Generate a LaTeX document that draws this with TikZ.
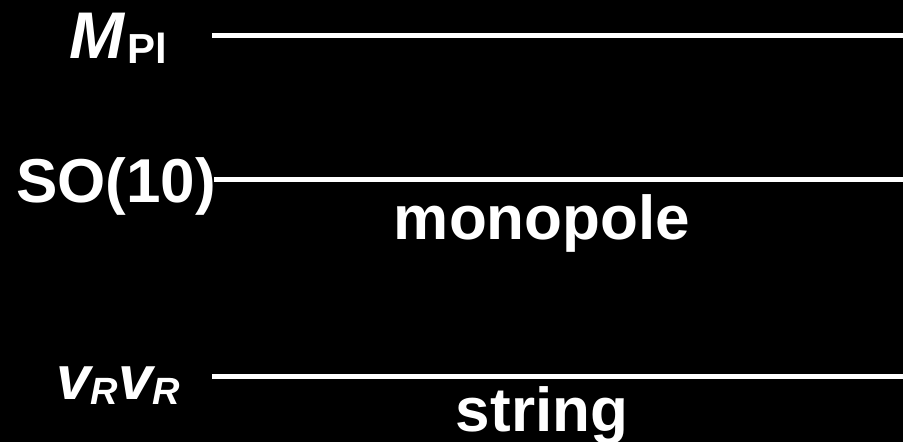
\documentclass[tikz,border=0pt]{standalone}
\usepackage{fontspec}
\setmainfont{Liberation Sans}
\begin{document}
\begin{tikzpicture}[x=1pt,y=1pt,
  lbl/.style={text=white,inner sep=0pt,anchor=base west,font=\fontsize{62}{62}\selectfont\bfseries},
  lvl/.style={draw=white,line width=4.5pt}]
\useasboundingbox (0,0) rectangle (903,442);
\fill[black] (0,0) rectangle (903,442);
% level lines
\coordinate (pl0) at (212,406.5);
\coordinate (pl1) at (903,406.5);
\coordinate (so0) at (214,262.5);
\coordinate (so1) at (903,262.5);
\coordinate (vr0) at (212,65.5);
\coordinate (vr1) at (903,65.5);
\draw[lvl] (pl0) -- (pl1);
\draw[lvl] (so0) -- (so1);
\draw[lvl] (vr0) -- (vr1);
% labels
\node[lbl,font=\fontsize{66}{66}\selectfont\bfseries] (mpl) at (69,383)
  {\itshape M\kern3pt\raisebox{-5pt}{\fontsize{42}{42}\selectfont\upshape Pl}};
\node[lbl,font=\fontsize{62}{62}\selectfont\bfseries] (so) at (16,239) {SO(10)};
\node[lbl] (vr) at (56,42)
  {\itshape v\raisebox{-5pt}{\fontsize{38}{38}\selectfont R}v\raisebox{-5pt}{\fontsize{38}{38}\selectfont R}};
\node[lbl,anchor=base] (mono) at (542,202) {monopole};
\node[lbl,anchor=base] (str) at (542,10) {string};
\end{tikzpicture}
\end{document}
